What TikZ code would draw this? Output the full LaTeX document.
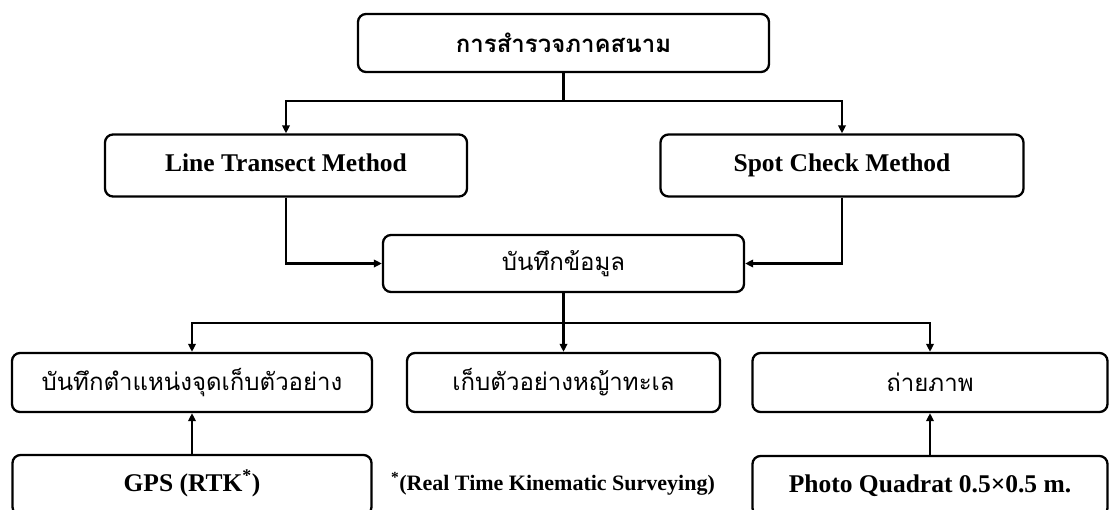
\documentclass[tikz,border=0pt]{standalone}
\usepackage{fontspec}
\setmainfont{Liberation Serif}
\newfontfamily\thai[Script=Thai]{Loma}
\usetikzlibrary{arrows.meta}
\tikzset{
  x=1pt,y=-1pt,
  box/.style={draw, line width=2.3pt, rounded corners=8pt, fill=white, inner sep=0pt, align=center},
  lat/.style={font=\fontsize{25.5}{28}\selectfont\bfseries, text height=17pt, text depth=5pt},
  th/.style={font=\thai\fontsize{24}{28}\selectfont},
  conn/.style={line width=2.3pt},
  arr/.style={conn, -{Triangle[length=8pt,width=7.5pt]}},
}
\begin{document}
\begin{tikzpicture}
\useasboundingbox (0,0) rectangle (1109,509);
\clip (0,0) rectangle (1109,509);
\node[box, th, font=\thai\bfseries\fontsize{24}{28}\selectfont, minimum width=411pt, minimum height=58pt] (top) at (563.5,43) {การสำรวจภาคสนาม};
\node[box, lat, minimum width=362pt, minimum height=62pt] (lt) at (286,165.5) {Line Transect Method};
\node[box, lat, minimum width=363pt, minimum height=62pt] (sc) at (842,165.5) {Spot Check Method};
\node[box, th, minimum width=361pt, minimum height=57pt] (rec) at (563.5,263.5) {บันทึกข้อมูล};
\node[box, th, minimum width=360pt, minimum height=59pt] (b1) at (192,382.5) {บันทึกตำแหน่งจุดเก็บตัวอย่าง};
\node[box, th, minimum width=313pt, minimum height=59pt] (b2) at (563.5,382.5) {เก็บตัวอย่างหญ้าทะเล};
\node[box, th, minimum width=355pt, minimum height=59pt] (b3) at (930,382.5) {ถ่ายภาพ};
\node[box, lat, minimum width=359pt, minimum height=60pt] (gps) at (192,485) {GPS (RTK\textsuperscript{*})};
\node[box, lat, minimum width=355pt, minimum height=60pt] (pq) at (930,486) {Photo Quadrat 0.5×0.5 m.};
\node[font=\fontsize{22}{24}\selectfont\bfseries, anchor=west, inner sep=0pt] (fn) at (391,484) {\textsuperscript{*}(Real Time Kinematic Surveying)};
\coordinate (j1) at (563.5,101);
\coordinate (j2) at (563.5,323);
\draw[conn] (top.south) -- (j1);
\draw[arr] (j1) -| (lt.north);
\draw[arr] (j1) -| (sc.north);
\draw[arr] (lt.south) |- (rec.west);
\draw[arr] (sc.south) |- (rec.east);
\draw[conn] (rec.south) -- (j2);
\draw[arr] (j2) -- (b2.north);
\draw[arr] (j2) -| (b1.north);
\draw[arr] (j2) -| (b3.north);
\draw[arr] (gps.north) -- (b1.south);
\draw[arr] (pq.north) -- (b3.south);
\end{tikzpicture}
\end{document}
